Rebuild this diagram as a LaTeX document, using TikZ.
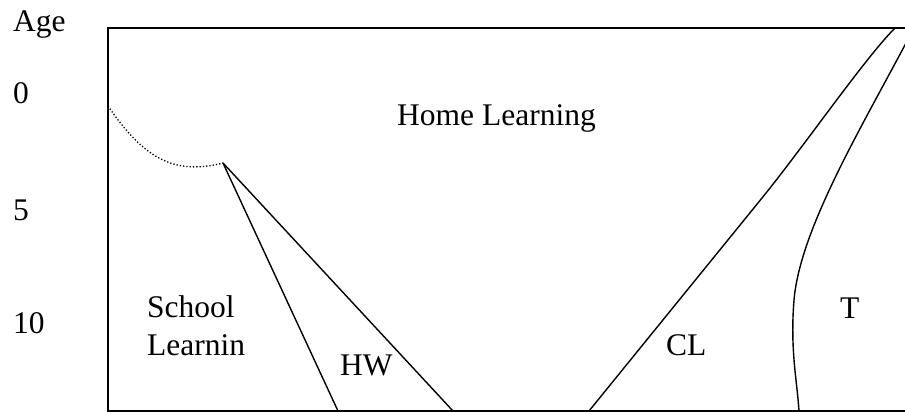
\documentclass[tikz,border=0pt]{standalone}
\usepackage{fontspec}
\setmainfont{Liberation Serif}
\usetikzlibrary{positioning}
\tikzset{
  lbl/.style={anchor=base west, inner sep=0pt, align=left,
              font=\fontsize{31.5}{38}\selectfont},
  frame/.style={line width=1.6pt},
  divide/.style={line width=1.4pt},
  guess/.style={line width=1.3pt, dotted},
}

\begin{document}
\begin{tikzpicture}[x=1pt, y=-1pt]
    \useasboundingbox (0,0) rectangle (905,412);

    % age scale
    \node[lbl] (age)  at (13, 32)  {Age};
    \node[lbl] (a0)   at (13, 103) {0};
    \node[lbl] (a5)   at (13, 220) {5};
    \node[lbl] (a10)  at (13, 333) {10};

    % chart frame
    \draw[frame] (906,28) -- (108,28) -- (108,411) -- (906,411);

    % boundaries between the kinds of learning
    \coordinate (start) at (108,106);
    \coordinate (apex)  at (223,163);
    \coordinate (hwL)   at (338,411);
    \coordinate (hwR)   at (453,411);
    \coordinate (clB)   at (589,411);
    \coordinate (clT)   at (895,28);
    \coordinate (tT)    at (906,43);
    \coordinate (tB)    at (799,411);

    \draw[guess]  (start) .. controls (145,160) and (175,175) .. (apex);
    \draw[divide] (apex) -- (hwL);
    \draw[divide] (apex) -- (hwR);
    \draw[divide] (clB) -- (762,198) .. controls (805,145) and (865,58) .. (clT);
    \draw[divide] (tT) .. controls (860,130) and (800,230) .. (794,300)
                       .. controls (790,350) and (797,380) .. (tB);

    % areas
    \node[lbl] (home)   at (397,125) {Home Learning};
    \node[lbl] (school) at (147,355) {School\\Learnin};
    \node[lbl] (hw)     at (340,375) {HW};
    \node[lbl] (cl)     at (666,355) {CL};
    \node[lbl] (t)      at (840,318) {T};
\end{tikzpicture}
\end{document}
